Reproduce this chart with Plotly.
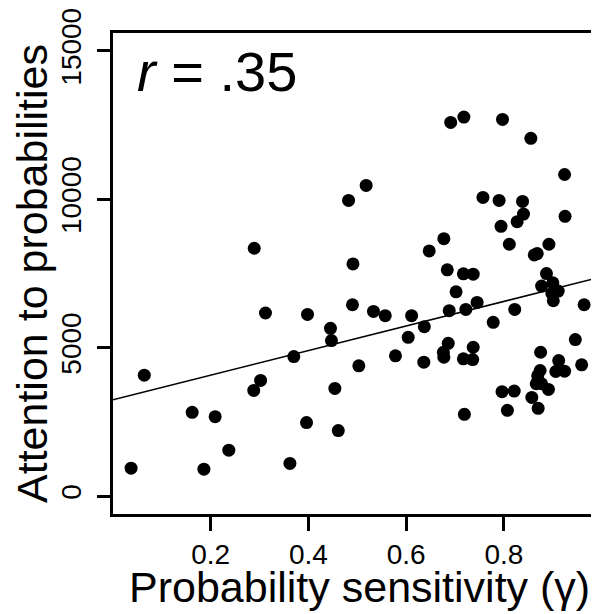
import plotly.graph_objects as go

# Probability sensitivity (gamma) per participant
gamma = [0.037, 0.064, 0.162, 0.186, 0.209, 0.237, 0.289, 0.288, 0.302, 0.312,
         0.362, 0.370, 0.396, 0.398, 0.445, 0.447, 0.454, 0.461, 0.482, 0.491,
         0.490, 0.503, 0.518, 0.533, 0.557, 0.578, 0.604, 0.611, 0.636, 0.637,
         0.647, 0.677, 0.684, 0.691, 0.718, 0.797, 0.855, 0.924, 0.757, 0.790,
         0.838, 0.840, 0.827, 0.925, 0.794, 0.811, 0.892, 0.862, 0.868, 0.717,
         0.737, 0.887, 0.702, 0.877, 0.900, 0.898, 0.911, 0.745, 0.901, 0.964,
         0.688, 0.722, 0.822, 0.778, 0.946, 0.686, 0.676, 0.677, 0.737, 0.717,
         0.736, 0.875, 0.912, 0.906, 0.924, 0.959, 0.874, 0.869, 0.866, 0.877,
         0.891, 0.796, 0.821, 0.857, 0.807, 0.870, 0.719]

# Attention to probabilities per participant
attention = [940, 4073, 2821, 907, 2676, 1545, 8351, 3559, 3895, 6169,
             1098, 4701, 2475, 6122, 5651, 5238, 3627, 2206, 9963, 7824,
             6447, 4389, 10467, 6222, 6078, 4725, 5349, 6078, 4510, 5709,
             8261, 8674, 7623, 12593, 12771, 12693, 12055, 10836, 10064, 9963,
             9930, 9503, 9245, 9426, 9090, 8486, 8486, 8126, 8170, 7488,
             7478, 7498, 6884, 7075, 7186, 6827, 6907, 6525, 6582, 6447,
             6246, 6290, 6290, 5853, 5272, 5148, 4846, 4678, 5014, 4624,
             4600, 4846, 4567, 4198, 4208, 4422, 4231, 4053, 3785, 3785,
             3593, 3516, 3536, 3324, 2888, 2955, 2754]

# Regression line (endpoints)
fit_x = [0.0, 1.0]
fit_y = [3243, 7389]

x_ticks = [0.2, 0.4, 0.6, 0.8]
y_ticks = [0, 5000, 10000, 15000]
r_label = "<i>r</i> = .35"

FONT = "Liberation Sans, Arial, sans-serif"

fig = go.Figure()
fig.add_trace(go.Scatter(x=fit_x, y=fit_y, mode="lines",
                         line=dict(color="black", width=1.5),
                         hoverinfo="skip", showlegend=False))
fig.add_trace(go.Scatter(x=gamma, y=attention, mode="markers",
                         marker=dict(color="black", size=13, line=dict(width=0)),
                         showlegend=False))

fig.add_annotation(x=0.045, y=14300, xref="x", yref="y", text=r_label,
                   showarrow=False, xanchor="left", yanchor="middle",
                   font=dict(family=FONT, size=56, color="black"))

fig.add_annotation(x=0.505, y=-0.097, xref="paper", yref="paper",
                   text="Probability sensitivity (γ)", showarrow=False,
                   xanchor="center", yanchor="top",
                   font=dict(family=FONT, size=43, color="black"))

fig.update_xaxes(range=[0, 1.0006], tickvals=x_ticks,
                 ticktext=[f"{v:.1f}" for v in x_ticks],
                 showline=True, linecolor="black", linewidth=2.5, mirror=True,
                 ticks="outside", ticklen=14, tickwidth=2.5, tickcolor="black",
                 showgrid=False, zeroline=False,
                 tickfont=dict(family=FONT, size=28, color="black"))
fig.update_yaxes(range=[-605, 15605], tickvals=y_ticks,
                 ticktext=[str(v) for v in y_ticks], tickangle=-90,
                 ticklabeloverflow="allow", ticklabelstandoff=5,
                 showline=True, linecolor="black", linewidth=2.5, mirror=False,
                 ticks="outside", ticklen=13, tickwidth=2.5, tickcolor="black",
                 showgrid=False, zeroline=False,
                 tickfont=dict(family=FONT, size=28, color="black"),
                 title=dict(text="Attention to probabilities",
                            font=dict(family=FONT, size=43, color="black"),
                            standoff=4))

fig.update_layout(width=594, height=606,
                  margin=dict(l=105, r=0, t=23, b=100),
                  plot_bgcolor="white", paper_bgcolor="white",
                  font=dict(family=FONT, color="black"))

fig.write_html("out.html")
